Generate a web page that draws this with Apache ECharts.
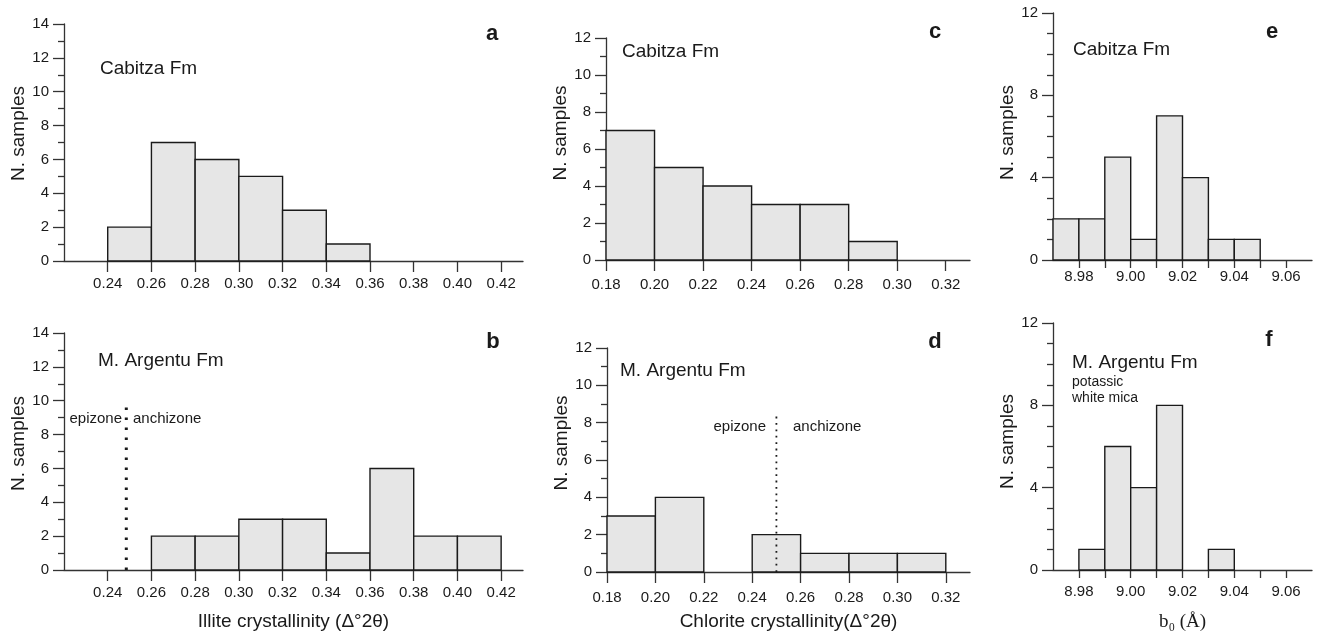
<!DOCTYPE html>
<html>
<head>
<meta charset="utf-8">
<script src="https://cdn.jsdelivr.net/npm/echarts@6/dist/echarts.min.js"></script>
<style>
  html, body { margin: 0; padding: 0; background: #fff; }
  #chart { width: 1317px; height: 636px; }
</style>
</head>
<body>
<div id="chart"></div>
<script>
// bin edges (left edge of each bin) and counts
const illiteEdges = [0.24, 0.26, 0.28, 0.30, 0.32, 0.34, 0.36, 0.38, 0.40, 0.42]
const illiteCabitza = [2, 7, 6, 5, 3, 1, 0, 0, 0]
const illiteArgentu = [0, 2, 2, 3, 3, 1, 6, 2, 2]

const chloriteEdges = [0.18, 0.20, 0.22, 0.24, 0.26, 0.28, 0.30, 0.32]
const chloriteCabitza = [7, 5, 4, 3, 3, 1, 0]
const chloriteArgentu = [3, 4, 0, 2, 1, 1, 1]

const b0Edges = [8.97, 8.98, 8.99, 9.00, 9.01, 9.02, 9.03, 9.04, 9.05]
const b0Cabitza = [2, 2, 5, 1, 7, 4, 1, 1]
const b0Argentu = [0, 1, 6, 4, 8, 0, 1, 0]

// tick labels
const illiteTicks = [0.24, 0.26, 0.28, 0.30, 0.32, 0.34, 0.36, 0.38, 0.40, 0.42]
const chloriteTicks = [0.18, 0.20, 0.22, 0.24, 0.26, 0.28, 0.30, 0.32]
const b0Ticks = [8.98, 8.99, 9.00, 9.01, 9.02, 9.03, 9.04, 9.05, 9.06]
const b0Labels = [8.98, 9.00, 9.02, 9.04, 9.06]

// epizone / anchizone boundaries
const illiteBoundary = [[0.2485, 0], [0.2485, 10]]
const chloriteBoundary = [[0.25, 0], [0.25, 8.4]]

const FONT = 'Liberation Sans, Arial, sans-serif'
const INK = '#1a1a1a'

const toBins = (edges, counts) => counts.map((c, i) => [edges[i], edges[i + 1], c])

const renderBar = (params, api) => {
  const n = api.value(2)
  if (!n) return
  const p0 = api.coord([api.value(0), 0])
  const p1 = api.coord([api.value(1), n])
  return {
    type: 'rect',
    shape: {x: p0[0], y: p1[1], width: p1[0] - p0[0], height: p0[1] - p1[1]},
    style: {fill: '#e6e6e6', stroke: INK, lineWidth: 1.4}
  }
}

const grids = [
  {left: 64, top: 24, width: 459, height: 237},
  {left: 64, top: 333, width: 459, height: 237},
  {left: 606, top: 38, width: 364, height: 222},
  {left: 607, top: 348, width: 363, height: 224},
  {left: 1053, top: 13, width: 259, height: 247},
  {left: 1053, top: 323, width: 259, height: 247}
]

const lineStyle = {color: '#333', width: 1.3}

const xAxis = (i, min, max, ticks, labels, margin, tickLen, name, nameGap, nameFont) => ({
  type: 'value', gridIndex: i, min, max,
  splitLine: {show: false},
  axisLine: {onZero: false, lineStyle},
  axisTick: {customValues: ticks, length: tickLen, lineStyle},
  axisLabel: {
    customValues: labels, margin, fontSize: 15, fontFamily: FONT, color: INK,
    formatter: v => v.toFixed(2)
  },
  name: name || '', nameLocation: 'middle', nameGap: nameGap || 0,
  nameTextStyle: {fontSize: 19, fontFamily: nameFont || FONT, color: INK}
})

const yAxis = (i, max, interval, split, shift) => ({
  type: 'value', gridIndex: i, min: 0, max, interval,
  splitLine: {show: false},
  axisLine: {lineStyle},
  axisTick: {length: 11, lineStyle},
  minorTick: {show: true, splitNumber: split, length: 6, lineStyle},
  axisLabel: {margin: 15, fontSize: 15, fontFamily: FONT, color: INK},
  name: 'N. samples', nameLocation: 'middle', nameGap: 36,
  nameTextStyle: {fontSize: 19, fontFamily: FONT, color: INK, padding: [0, 0, 0, shift]}
})

const barSeries = (i, data) => ({
  type: 'custom', xAxisIndex: i, yAxisIndex: i,
  renderItem: renderBar, encode: {x: [0, 1], y: 2},
  data, z: 3
})

const boundary = (i, data, width, dash) => ({
  type: 'line', xAxisIndex: i, yAxisIndex: i, data,
  symbol: 'none', silent: true, z: 4,
  lineStyle: {color: INK, width, type: dash, cap: 'butt'}
})

const txt = (x, y, text, size, opts) => Object.assign({
  type: 'text', x, y,
  style: Object.assign({text, fill: INK, font: `${size}px ${FONT}`, verticalAlign: 'middle'}, opts || {})
})

const chart = echarts.init(document.getElementById('chart'))
chart.setOption({
  animation: false,
  backgroundColor: '#fff',
  grid: grids,
  xAxis: [
    xAxis(0, 0.22, 0.43, illiteTicks, illiteTicks, 15, 11),
    xAxis(1, 0.22, 0.43, illiteTicks, illiteTicks, 15.5, 11, 'Illite crystallinity (Δ°2θ)', 42),
    xAxis(2, 0.18, 0.33, chloriteTicks, chloriteTicks, 17, 11),
    xAxis(3, 0.18, 0.33, chloriteTicks, chloriteTicks, 18, 11, 'Chlorite crystallinity(Δ°2θ)', 40),
    xAxis(4, 8.97, 9.07, b0Ticks, b0Labels, 9, 8),
    xAxis(5, 8.97, 9.07, b0Ticks, b0Labels, 14, 8, 'b₀ (Å)', 43, 'Liberation Serif, Times New Roman, serif')
  ],
  yAxis: [
    yAxis(0, 14, 2, 2, 18),
    yAxis(1, 14, 2, 2, 16),
    yAxis(2, 12, 2, 2, 32),
    yAxis(3, 12, 2, 2, 34),
    yAxis(4, 12, 4, 4, 8),
    yAxis(5, 12, 4, 4, 10)
  ],
  series: [
    barSeries(0, toBins(illiteEdges, illiteCabitza)),
    barSeries(1, toBins(illiteEdges, illiteArgentu)),
    barSeries(2, toBins(chloriteEdges, chloriteCabitza)),
    barSeries(3, toBins(chloriteEdges, chloriteArgentu)),
    barSeries(4, toBins(b0Edges, b0Cabitza)),
    barSeries(5, toBins(b0Edges, b0Argentu)),
    boundary(1, illiteBoundary, 3, [2.5, 7.5]),
    boundary(3, chloriteBoundary, 1.8, [1.8, 4.6])
  ],
  graphic: [
    txt(100, 69, 'Cabitza Fm', 19),
    txt(98, 361, 'M. Argentu Fm', 19),
    txt(622, 52, 'Cabitza Fm', 19),
    txt(620, 371, 'M. Argentu Fm', 19),
    txt(1073, 50, 'Cabitza Fm', 19),
    txt(1072, 363, 'M. Argentu Fm', 19),
    txt(1072, 382, 'potassic', 14),
    txt(1072, 398, 'white mica', 14),
    txt(122, 419, 'epizone', 15, {align: 'right'}),
    txt(133, 419, 'anchizone', 15),
    txt(766, 427, 'epizone', 15, {align: 'right'}),
    txt(793, 427, 'anchizone', 15),
    txt(492, 34, 'a', 22, {align: 'center', font: `bold 22px ${FONT}`}),
    txt(493, 342, 'b', 22, {align: 'center', font: `bold 22px ${FONT}`}),
    txt(935, 32, 'c', 22, {align: 'center', font: `bold 22px ${FONT}`}),
    txt(935, 342, 'd', 22, {align: 'center', font: `bold 22px ${FONT}`}),
    txt(1272, 32, 'e', 22, {align: 'center', font: `bold 22px ${FONT}`}),
    txt(1269, 340, 'f', 22, {align: 'center', font: `bold 22px ${FONT}`})
  ]
})
</script>
</body>
</html>
